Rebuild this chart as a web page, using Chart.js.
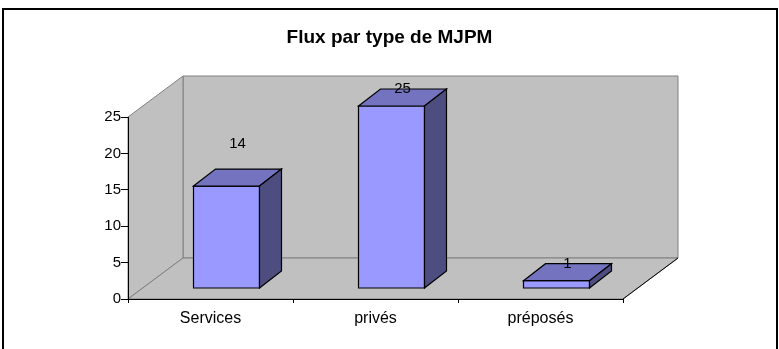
<!DOCTYPE html>
<html>
<head>
<meta charset="utf-8">
<title>Flux par type de MJPM</title>
<script src="https://cdn.jsdelivr.net/npm/chart.js@4/dist/chart.umd.min.js"></script>
<style>
  html, body { margin: 0; padding: 0; background: #fff; }
  #wrap { width: 779px; height: 349px; }
</style>
</head>
<body>
<div id="wrap"><canvas id="chart" width="779" height="349"></canvas></div>
<script>
const categories = ['Services', 'privés', 'préposés'];
const flux = [14, 25, 1];
const yMin = 0;
const yMax = 25;
const yStep = 5;

const FONT = "Arial, 'Liberation Sans', sans-serif";

function poly(ctx, pts, fill, stroke) {
  ctx.beginPath();
  ctx.moveTo(pts[0][0], pts[0][1]);
  for (let i = 1; i < pts.length; i++) ctx.lineTo(pts[i][0], pts[i][1]);
  ctx.closePath();
  if (fill) { ctx.fillStyle = fill; ctx.fill(); }
  if (stroke) { ctx.strokeStyle = stroke; ctx.stroke(); }
}

// walls + floor behind the axes, boxes and value labels on top
const box3d = {
  id: 'box3d',
  beforeDraw(chart, args, o) {
    const { ctx, chartArea: a } = chart;
    const [dx, dy] = o.depth;
    const L = a.left, R = a.right, T = a.top, B = a.bottom;
    ctx.save();
    ctx.lineWidth = 2;
    ctx.strokeStyle = '#000';
    ctx.strokeRect(3, 9, 774, 400);

    ctx.lineWidth = 1;
    poly(ctx, [[L + dx, T + dy], [R + dx, T + dy], [R + dx, B + dy], [L + dx, B + dy]], o.wall, o.edge);
    poly(ctx, [[L, T], [L + dx, T + dy], [L + dx, B + dy], [L, B]], o.wall, o.edge);
    poly(ctx, [[L, B], [L + dx, B + dy], [R + dx, B + dy], [R, B]], o.wall, o.edge);
    ctx.beginPath();
    ctx.moveTo(R, B);
    ctx.lineTo(R + dx, B + dy);
    ctx.strokeStyle = '#000';
    ctx.stroke();
    ctx.restore();
  },
  afterDatasetsDraw(chart, args, o) {
    const { ctx } = chart;
    const xs = chart.scales.x, ys = chart.scales.y;
    const data = chart.data.datasets[0].data;
    const [fx, fy] = o.front;
    const [bx, by] = o.back;
    const ddx = bx - fx, ddy = by - fy;
    const catW = xs.getPixelForValue(1) - xs.getPixelForValue(0);
    const w = catW * o.barFrac;
    ctx.save();
    ctx.lineWidth = 1.2;
    ctx.lineJoin = 'miter';
    data.forEach((v, i) => {
      const cx = xs.getPixelForValue(i);
      const x0 = cx - w / 2 + fx, x1 = x0 + w;
      const yb = ys.getPixelForValue(0) + fy;
      const yt = ys.getPixelForValue(v) + fy;
      poly(ctx, [[x0, yt], [x1, yt], [x1, yb], [x0, yb]], o.face, '#000');
      poly(ctx, [[x0, yt], [x0 + ddx, yt + ddy], [x1 + ddx, yt + ddy], [x1, yt]], o.top, '#000');
      poly(ctx, [[x1, yt], [x1 + ddx, yt + ddy], [x1 + ddx, yb + ddy], [x1, yb]], o.side, '#000');
    });
    ctx.fillStyle = '#000';
    ctx.font = '15px ' + FONT;
    ctx.textAlign = 'center';
    ctx.textBaseline = 'middle';
    data.forEach((v, i) => {
      const cx = xs.getPixelForValue(i) + fx + ddx / 2;
      const yt = ys.getPixelForValue(v) + fy + ddy - (o.labelLift[i] || 0);
      ctx.fillText(String(v), cx, yt);
    });
    ctx.restore();
  }
};

new Chart(document.getElementById('chart'), {
  type: 'bar',
  data: {
    labels: categories,
    datasets: [{
      data: flux,
      backgroundColor: 'rgba(0,0,0,0)',
      borderWidth: 0,
    }],
  },
  options: {
    responsive: false,
    animation: false,
    events: [],
    layout: { padding: 0 },
    plugins: {
      legend: { display: false },
      tooltip: { enabled: false },
      title: {
        display: true,
        text: 'Flux par type de MJPM',
        color: '#000',
        font: { family: FONT, size: 19, weight: 'bold', lineHeight: 1.2 },
        padding: { top: 26, bottom: 68.2 },
      },
      box3d: {
        depth: [55, -41],
        front: [16, -11],
        back: [38, -28],
        barFrac: 0.4,
        wall: '#c0c0c0',
        edge: '#808080',
        face: '#9999ff',
        top: '#7373bf',
        side: '#4d4d80',
        labelLift: [25, 0, 0],
      },
    },
    scales: {
      x: {
        afterFit(s) { s.height = 50; },
        grid: { display: true, drawOnChartArea: false, drawTicks: true, tickLength: 4, color: '#000', offset: true },
        border: { display: true, color: '#000', width: 1 },
        ticks: { color: '#000', padding: 6, font: { family: FONT, size: 16 } },
      },
      y: {
        min: yMin,
        max: yMax,
        afterFit(s) { s.width = 128; },
        grid: { display: true, drawOnChartArea: false, drawTicks: true, tickLength: 7, color: '#000' },
        border: { display: true, color: '#000', width: 1 },
        ticks: { stepSize: yStep, color: '#000', padding: 0, font: { family: FONT, size: 15 } },
      },
      // empty right-hand strip that holds room for the receding walls
      yRoom: {
        type: 'linear',
        position: 'right',
        afterFit(s) { s.width = 156; },
        grid: { display: false },
        border: { display: false },
        ticks: { display: false },
      },
    },
  },
  plugins: [box3d],
});
</script>
</body>
</html>
